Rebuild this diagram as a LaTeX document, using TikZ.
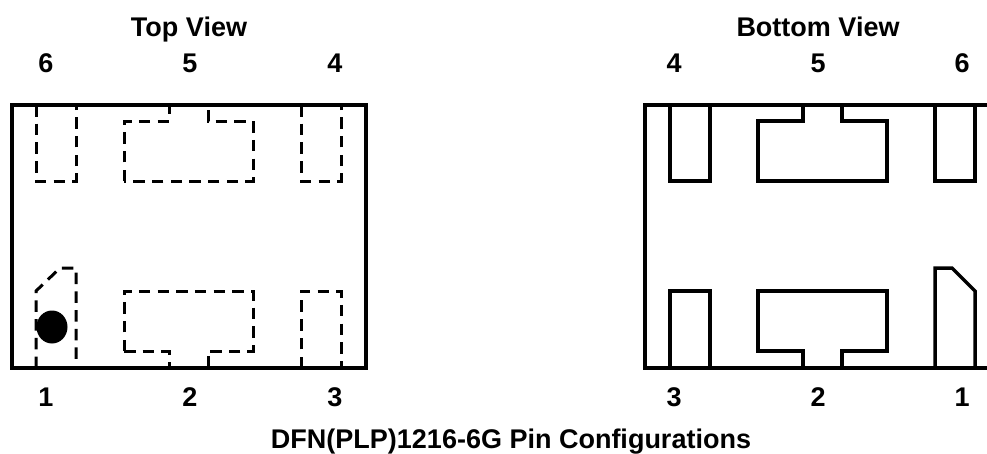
\documentclass[tikz,border=0pt]{standalone}
\usepackage{fontspec}
\setmainfont{Liberation Sans}
\begin{document}
\begin{tikzpicture}[x=1pt,y=-1pt,line join=miter]
\tikzstyle{body} = [draw, line width=4pt]
\tikzstyle{bodybot} = [draw, line width=3.3pt]
\tikzstyle{hidden} = [draw, line width=3pt, dash pattern=on 11.5pt off 7.2pt]
\tikzstyle{pad} = [draw, line width=3.5pt]
\tikzstyle{title} = [font=\fontsize{27}{30}\selectfont\bfseries, inner sep=0pt, anchor=base]
\useasboundingbox (0,0) rectangle (987,453);
% top view
\draw[body] (12,105) rectangle (366,368);
\draw[hidden] (36,105) -- (36,181) -- (76,181) -- (76,105);
\draw[hidden] (124,181) -- (124,121) -- (169,121) -- (169,105);
\draw[hidden] (208,110) -- (208,121) -- (253,121) -- (253,181) -- (124,181);
\draw[hidden] (301,105) -- (301,181) -- (341,181) -- (341,105);
\draw[hidden] (36,368) -- (36,291) -- (60,268) -- (76,268) -- (76,368);
\draw[hidden] (124,351) -- (124,291) -- (253,291) -- (253,351) -- (208,351) -- (208,368);
\draw[hidden] (124,351) -- (169,351) -- (169,368);
\draw[hidden] (301,368) -- (301,291) -- (341,291) -- (341,368);
\fill (52,327) ellipse [x radius=15.5, y radius=16.5];
% bottom view, runs off the page on the right
\draw[bodybot] (990,105) -- (645,105) -- (645,368) -- (990,368);
\draw[pad] (670,105) rectangle (710,181);
\draw[pad] (803,105) -- (803,121) -- (758,121) -- (758,181) -- (887,181) -- (887,121) -- (842,121) -- (842,105);
\draw[pad] (935,105) -- (935,181) -- (975,181) -- (975,105);
\draw[pad] (670,368) -- (670,291) -- (710,291) -- (710,368);
\draw[pad] (803,368) -- (803,351) -- (758,351) -- (758,291) -- (887,291) -- (887,351) -- (842,351) -- (842,368);
\draw[pad] (935,368) -- (935,268) -- (952,268) -- (975,291) -- (975,368);
% labels
\node[title] (topview) at (189,36.5) {Top View};
\node[title] (botview) at (818,36.5) {Bottom View};
\node[title] (caption) at (511,448) {DFN(PLP)1216-6G Pin Configurations};
\foreach \pinx/\piny/\pin in {46/72/6,190/72/5,335/72/4,46/406/1,190/406/2,335/406/3,674/72/4,818/72/5,962/72/6,674/406/3,818/406/2,962/406/1}
  \node[title] (pin\pinx-\piny) at (\pinx,\piny) {\pin};
\end{tikzpicture}
\end{document}
